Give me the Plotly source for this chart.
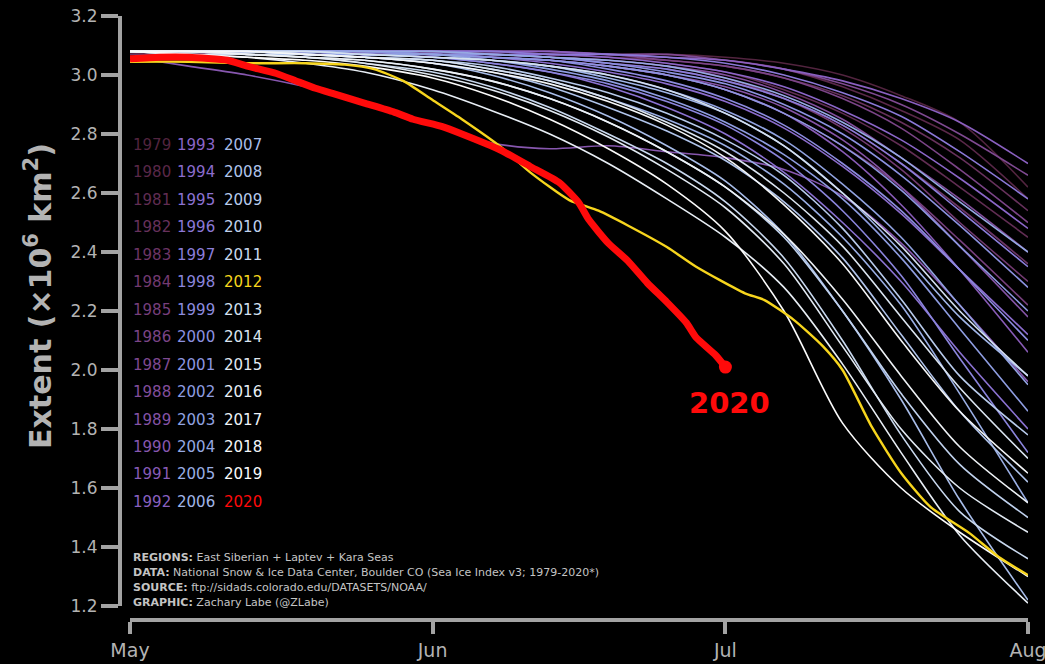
import pandas as pd
import plotly.graph_objects as go

# Day offsets from 1 May at which each season's extent is listed
sample_days = [0, 6, 12, 18, 24, 31, 37, 43, 49, 55, 61, 67, 73, 79, 85, 92]

# Sea-ice extent (x10^6 km^2), East Siberian + Laptev + Kara Seas
ext_1979 = [3.08, 3.08, 3.08, 3.08, 3.08, 3.08, 3.08, 3.08, 3.07, 3.07, 3.06, 3.04, 3.00, 2.93, 2.84, 2.62]
ext_1980 = [3.07, 3.08, 3.08, 3.08, 3.08, 3.08, 3.08, 3.07, 3.07, 3.06, 3.05, 3.02, 2.96, 2.88, 2.78, 2.58]
ext_1981 = [3.08, 3.08, 3.08, 3.08, 3.08, 3.08, 3.07, 3.07, 3.06, 3.04, 3.01, 2.95, 2.87, 2.76, 2.62, 2.45]
ext_1982 = [3.08, 3.08, 3.08, 3.08, 3.08, 3.08, 3.08, 3.07, 3.06, 3.05, 3.03, 2.99, 2.93, 2.84, 2.72, 2.54]
ext_1983 = [3.07, 3.07, 3.08, 3.08, 3.08, 3.07, 3.07, 3.06, 3.04, 3.02, 2.98, 2.92, 2.83, 2.70, 2.55, 2.36]
ext_1984 = [3.08, 3.08, 3.08, 3.08, 3.08, 3.08, 3.07, 3.06, 3.05, 3.03, 2.99, 2.92, 2.82, 2.68, 2.50, 2.30]
ext_1985 = [3.08, 3.08, 3.08, 3.08, 3.07, 3.07, 3.06, 3.05, 3.03, 3.00, 2.95, 2.87, 2.76, 2.62, 2.44, 2.22]
ext_1986 = [3.08, 3.08, 3.08, 3.08, 3.08, 3.08, 3.08, 3.07, 3.07, 3.05, 3.03, 2.99, 2.92, 2.82, 2.68, 2.50]
ext_1987 = [3.08, 3.08, 3.08, 3.08, 3.08, 3.08, 3.08, 3.08, 3.07, 3.07, 3.05, 3.02, 2.97, 2.90, 2.80, 2.66]
ext_1988 = [3.08, 3.08, 3.08, 3.08, 3.08, 3.07, 3.07, 3.06, 3.05, 3.03, 3.00, 2.94, 2.85, 2.72, 2.58, 2.40]
ext_1989 = [3.08, 3.08, 3.08, 3.08, 3.07, 3.07, 3.06, 3.05, 3.03, 3.00, 2.96, 2.89, 2.78, 2.62, 2.42, 2.18]
ext_1990 = [3.06, 3.03, 3.00, 2.96, 2.91, 2.83, 2.77, 2.75, 2.76, 2.74, 2.72, 2.68, 2.59, 2.43, 2.22, 1.96]
ext_1991 = [3.08, 3.08, 3.08, 3.08, 3.07, 3.07, 3.06, 3.05, 3.03, 3.00, 2.95, 2.87, 2.74, 2.56, 2.34, 2.06]
ext_1992 = [3.08, 3.08, 3.08, 3.08, 3.08, 3.08, 3.08, 3.08, 3.07, 3.06, 3.05, 3.02, 2.98, 2.92, 2.84, 2.70]
ext_1993 = [3.08, 3.08, 3.08, 3.08, 3.08, 3.08, 3.07, 3.07, 3.06, 3.04, 3.01, 2.96, 2.88, 2.78, 2.65, 2.48]
ext_1994 = [3.08, 3.08, 3.08, 3.08, 3.07, 3.07, 3.06, 3.04, 3.01, 2.97, 2.91, 2.82, 2.69, 2.53, 2.34, 2.12]
ext_1995 = [3.08, 3.08, 3.08, 3.07, 3.07, 3.06, 3.04, 3.01, 2.96, 2.89, 2.80, 2.67, 2.50, 2.30, 2.06, 1.80]
ext_1996 = [3.08, 3.08, 3.08, 3.08, 3.08, 3.08, 3.08, 3.07, 3.07, 3.06, 3.04, 3.00, 2.94, 2.86, 2.74, 2.58]
ext_1997 = [3.08, 3.08, 3.08, 3.08, 3.08, 3.07, 3.07, 3.06, 3.04, 3.02, 2.98, 2.92, 2.83, 2.70, 2.54, 2.35]
ext_1998 = [3.08, 3.08, 3.08, 3.07, 3.07, 3.06, 3.04, 3.01, 2.97, 2.91, 2.83, 2.71, 2.54, 2.32, 2.04, 1.72]
ext_1999 = [3.08, 3.08, 3.08, 3.08, 3.07, 3.07, 3.06, 3.05, 3.02, 2.98, 2.92, 2.83, 2.70, 2.54, 2.34, 2.10]
ext_2000 = [3.08, 3.08, 3.08, 3.08, 3.08, 3.07, 3.07, 3.06, 3.04, 3.01, 2.97, 2.90, 2.80, 2.66, 2.49, 2.28]
ext_2001 = [3.08, 3.08, 3.08, 3.08, 3.08, 3.07, 3.06, 3.05, 3.03, 3.00, 2.95, 2.87, 2.76, 2.61, 2.42, 2.20]
ext_2002 = [3.08, 3.08, 3.08, 3.07, 3.07, 3.06, 3.05, 3.02, 2.98, 2.92, 2.84, 2.73, 2.58, 2.38, 2.14, 1.86]
ext_2003 = [3.08, 3.08, 3.08, 3.08, 3.07, 3.07, 3.05, 3.03, 3.00, 2.95, 2.88, 2.78, 2.63, 2.45, 2.22, 1.95]
ext_2004 = [3.08, 3.08, 3.08, 3.08, 3.08, 3.08, 3.07, 3.06, 3.05, 3.03, 2.99, 2.93, 2.84, 2.72, 2.57, 2.40]
ext_2005 = [3.08, 3.08, 3.08, 3.07, 3.06, 3.05, 3.02, 2.98, 2.92, 2.85, 2.76, 2.63, 2.45, 2.22, 1.92, 1.55]
ext_2006 = [3.08, 3.08, 3.08, 3.08, 3.07, 3.06, 3.05, 3.03, 2.99, 2.94, 2.87, 2.76, 2.60, 2.40, 2.18, 1.98]
ext_2007 = [3.08, 3.08, 3.08, 3.07, 3.06, 3.04, 3.00, 2.94, 2.86, 2.76, 2.64, 2.46, 2.20, 1.90, 1.56, 1.22]
ext_2008 = [3.08, 3.08, 3.07, 3.07, 3.06, 3.04, 3.01, 2.96, 2.89, 2.81, 2.71, 2.57, 2.38, 2.12, 1.86, 1.62]
ext_2009 = [3.08, 3.08, 3.08, 3.07, 3.06, 3.05, 3.03, 2.99, 2.94, 2.87, 2.78, 2.66, 2.48, 2.24, 1.98, 1.78]
ext_2010 = [3.08, 3.08, 3.07, 3.06, 3.05, 3.02, 2.98, 2.92, 2.84, 2.74, 2.62, 2.45, 2.20, 1.92, 1.68, 1.50]
ext_2011 = [3.08, 3.07, 3.07, 3.06, 3.04, 3.01, 2.96, 2.89, 2.80, 2.70, 2.57, 2.38, 2.10, 1.78, 1.52, 1.36]
ext_2013 = [3.08, 3.08, 3.08, 3.08, 3.07, 3.06, 3.05, 3.03, 3.00, 2.95, 2.87, 2.76, 2.60, 2.42, 2.20, 1.98]
ext_2014 = [3.08, 3.08, 3.08, 3.07, 3.06, 3.05, 3.02, 2.98, 2.92, 2.84, 2.74, 2.60, 2.42, 2.18, 1.94, 1.70]
ext_2015 = [3.08, 3.08, 3.07, 3.06, 3.04, 3.00, 2.95, 2.88, 2.79, 2.68, 2.55, 2.36, 2.08, 1.80, 1.60, 1.45]
ext_2016 = [3.08, 3.07, 3.06, 3.04, 3.01, 2.95, 2.88, 2.80, 2.70, 2.58, 2.45, 2.28, 2.02, 1.72, 1.44, 1.21]
ext_2017 = [3.08, 3.08, 3.07, 3.06, 3.05, 3.02, 2.98, 2.92, 2.84, 2.74, 2.62, 2.46, 2.24, 1.98, 1.74, 1.55]
ext_2018 = [3.08, 3.08, 3.08, 3.07, 3.06, 3.04, 3.01, 2.97, 2.91, 2.83, 2.72, 2.56, 2.36, 2.10, 1.86, 1.65]
ext_2019 = [3.08, 3.07, 3.06, 3.05, 3.03, 2.99, 2.93, 2.85, 2.75, 2.63, 2.47, 2.20, 1.82, 1.60, 1.45, 1.30]

# 2012 (record year) listed more finely
days_2012 = [0, 6, 12, 18, 22, 25, 28, 31, 34, 38, 41, 45, 48, 51, 55, 58, 63, 65, 68, 71, 73, 76, 79, 82, 86, 89, 92]
ext_2012 = [3.045, 3.045, 3.04, 3.04, 3.035, 3.02, 2.98, 2.915, 2.85, 2.756, 2.67, 2.576, 2.54, 2.49, 2.417, 2.35,
            2.26, 2.237, 2.17, 2.08, 2.00, 1.807, 1.651, 1.536, 1.447, 1.366, 1.305]

# 2020 through 1 July
days_2020 = [0, 3, 6, 10, 12, 15, 17, 19, 21, 24, 27, 29, 32, 34, 38, 41, 44, 46, 47, 49, 51, 53, 55, 57, 58, 60, 61]
ext_2020 = [3.055, 3.06, 3.06, 3.05, 3.03, 3.005, 2.98, 2.955, 2.935, 2.905, 2.875, 2.85, 2.825, 2.80, 2.745, 2.69,
            2.635, 2.566, 2.51, 2.43, 2.37, 2.295, 2.23, 2.16, 2.11, 2.05, 2.01]

y_ticks = [1.2, 1.4, 1.6, 1.8, 2.0, 2.2, 2.4, 2.6, 2.8, 3.0, 3.2]
month_labels = ["May", "Jun", "Jul", "Aug"]
month_starts = ["2020-05-01", "2020-06-01", "2020-07-01", "2020-08-01"]

credit_lines = [
    ("REGIONS:", "East Siberian + Laptev + Kara Seas"),
    ("DATA:", "National Snow & Ice Data Center, Boulder CO (Sea Ice Index v3; 1979-2020*)"),
    ("SOURCE:", "ftp://sidads.colorado.edu/DATASETS/NOAA/"),
    ("GRAPHIC:", "Zachary Labe (@ZLabe)"),
]

past_years = {
    1979: ext_1979, 1980: ext_1980, 1981: ext_1981, 1982: ext_1982, 1983: ext_1983, 1984: ext_1984,
    1985: ext_1985, 1986: ext_1986, 1987: ext_1987, 1988: ext_1988, 1989: ext_1989, 1990: ext_1990,
    1991: ext_1991, 1992: ext_1992, 1993: ext_1993, 1994: ext_1994, 1995: ext_1995, 1996: ext_1996,
    1997: ext_1997, 1998: ext_1998, 1999: ext_1999, 2000: ext_2000, 2001: ext_2001, 2002: ext_2002,
    2003: ext_2003, 2004: ext_2004, 2005: ext_2005, 2006: ext_2006, 2007: ext_2007, 2008: ext_2008,
    2009: ext_2009, 2010: ext_2010, 2011: ext_2011, 2013: ext_2013, 2014: ext_2014, 2015: ext_2015,
    2016: ext_2016, 2017: ext_2017, 2018: ext_2018, 2019: ext_2019,
}

# Colour per year: dark plum -> violet -> periwinkle -> ice white
year_colors = {
    1979: "#52243f", 1980: "#5a2849", 1981: "#612d53", 1982: "#67315c", 1983: "#6d3566", 1984: "#733a71",
    1985: "#773f7c", 1986: "#7b4487", 1987: "#7f4991", 1988: "#834e9c", 1989: "#8553a6", 1990: "#8757af",
    1991: "#885bb7", 1992: "#8a60c0", 1993: "#8b66c8", 1994: "#8b6ccd", 1995: "#8b72d2", 1996: "#8b78d7",
    1997: "#8b7edb", 1998: "#8b85dd", 1999: "#8c8bdf", 2000: "#8c91e0", 2001: "#8d97e0", 2002: "#8e9de1",
    2003: "#91a3e1", 2004: "#95a9e3", 2005: "#9aafe5", 2006: "#a0b5e7", 2007: "#a8bde9", 2008: "#b0c4eb",
    2009: "#b8cbec", 2010: "#c0d2ee", 2011: "#c9d9ef", 2012: "#f7d51d", 2013: "#d4e0f0", 2014: "#dbe5f1",
    2015: "#e2eaf3", 2016: "#e8eef5", 2017: "#eef2f6", 2018: "#f4f6f8", 2019: "#fbfbfb", 2020: "#ff0a0a",
}

START = pd.Timestamp("2020-05-01")


def to_dates(days):
    return [START + pd.Timedelta(days=d) for d in days]


FONT = "DejaVu Sans"
AXIS_GREY = "#a3a3a3"
TEXT_GREY = "#b3b3b3"

fig = go.Figure()

for year, vals in past_years.items():
    fig.add_trace(go.Scatter(
        x=to_dates(sample_days), y=vals, mode="lines",
        line=dict(color=year_colors[year], width=1.6, shape="spline", smoothing=0.8),
        hoverinfo="skip", showlegend=False,
    ))

fig.add_trace(go.Scatter(
    x=to_dates(days_2012), y=ext_2012, mode="lines",
    line=dict(color=year_colors[2012], width=2.4, shape="spline", smoothing=0.6),
    showlegend=False,
))

fig.add_trace(go.Scatter(
    x=to_dates(days_2020), y=ext_2020, mode="lines",
    line=dict(color=year_colors[2020], width=7, shape="spline", smoothing=0.5),
    showlegend=False,
))
fig.add_trace(go.Scatter(
    x=to_dates(days_2020[-1:]), y=ext_2020[-1:], mode="markers",
    marker=dict(color=year_colors[2020], size=13),
    showlegend=False,
))

# Plot frame in pixels
W, H = 1045, 664
ML, MR, MT, MB = 100, 17, 16, 44
PW, PH = W - ML - MR, H - MT - MB


def px_x(px):
    return (px - ML) / PW


def px_y(py):
    return (H - MB - py) / PH


annotations = []

# Three-column year key
legend_years = list(range(1979, 2021))
col_left = [131, 175, 222]
row_top, row_step = 145, 27.45
for i, year in enumerate(legend_years):
    col, row = divmod(i, 14)
    annotations.append(dict(
        x=px_x(col_left[col]), y=px_y(row_top + row * row_step), xref="paper", yref="paper",
        text=str(year), showarrow=False, xanchor="left", yanchor="middle",
        font=dict(family=FONT, size=15, color=year_colors[year]),
    ))

# Credits block
for i, (head, body) in enumerate(credit_lines):
    annotations.append(dict(
        x=px_x(131), y=px_y(557 + i * 15.3), xref="paper", yref="paper",
        text=f"<b>{head}</b> {body}", showarrow=False, xanchor="left", yanchor="middle",
        font=dict(family=FONT, size=11, color="#c4c4c4"),
    ))

# Y-axis title
annotations.append(dict(
    x=px_x(38), y=px_y(296), xref="paper", yref="paper",
    text="<b>Extent (×10<sup>6</sup> km<sup>2</sup>)</b>", textangle=-90, showarrow=False,
    xanchor="center", yanchor="middle",
    font=dict(family=FONT, size=30, color=TEXT_GREY),
))

# 2020 label below the end point
annotations.append(dict(
    x=to_dates(days_2020[-1:])[0], y=ext_2020[-1], xref="x", yref="y",
    text="<b>2020</b>", showarrow=False, xanchor="center", yanchor="middle",
    yshift=-36, xshift=4,
    font=dict(family=FONT, size=29, color=year_colors[2020]),
))

fig.update_layout(
    width=W, height=H,
    margin=dict(l=ML, r=MR, t=MT, b=MB, autoexpand=False),
    paper_bgcolor="#000000", plot_bgcolor="#000000",
    showlegend=False,
    annotations=annotations,
    xaxis=dict(
        domain=[px_x(130), 1.0], anchor="free", position=0.0, automargin=False,
        range=[month_starts[0], month_starts[-1]],
        tickvals=month_starts, ticktext=month_labels, ticklabeloverflow="allow",
        showgrid=False, zeroline=False,
        showline=True, linecolor=AXIS_GREY, linewidth=4,
        ticks="outside", ticklen=12, tickwidth=4, tickcolor=AXIS_GREY,
        tickfont=dict(family=FONT, size=19, color=TEXT_GREY),
    ),
    yaxis=dict(
        domain=[px_y(606), 1.0], anchor="free", position=px_x(120), automargin=False,
        range=[1.2, 3.2], tickvals=y_ticks, tickformat=".1f", ticklabeloverflow="allow",
        showgrid=False, zeroline=False,
        showline=True, linecolor=AXIS_GREY, linewidth=4,
        ticks="outside", ticklen=17, tickwidth=4, tickcolor=AXIS_GREY,
        tickfont=dict(family=FONT, size=17, color=TEXT_GREY),
    ),
)

fig.write_html("out.html")
